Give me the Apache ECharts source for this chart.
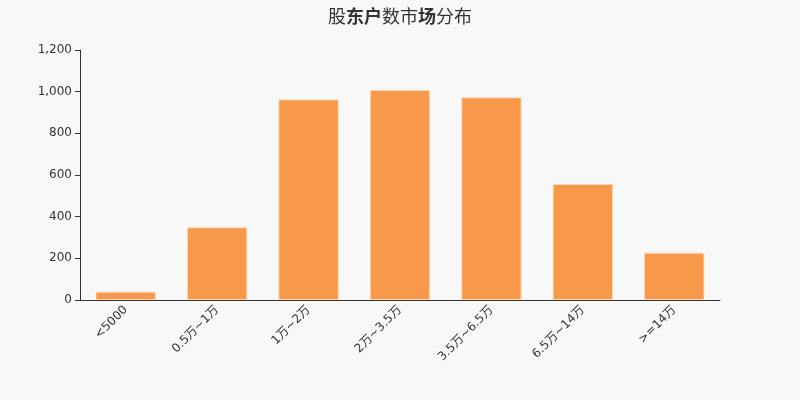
<!DOCTYPE html>
<html>
<head>
<meta charset="utf-8">
<script src="https://cdn.jsdelivr.net/npm/echarts@6/dist/echarts.min.js"></script>
<style>
  html, body { margin: 0; padding: 0; background: #f8f8f8; }
  #chart { width: 800px; height: 400px; }
</style>
</head>
<body>
<div id="chart"></div>
<script>
// 股东户数分布
const categories = ['<5000', '0.5万~1万', '1万~2万', '2万~3.5万', '3.5万~6.5万', '6.5万~14万', '>=14万'];
const holders = [40, 349, 963, 1008, 973, 557, 227];
const yTicks = { min: 0, max: 1200, interval: 200 };

const chart = echarts.init(document.getElementById('chart'));
const axisColor = '#333';

chart.setOption({
  backgroundColor: '#f8f8f8',
  title: {
    text: '股{b|东户}数市{b|场}分布',
    left: 'center',
    top: 2,
    textStyle: {
      fontFamily: 'Noto Sans CJK SC',
      fontSize: 18,
      fontWeight: 'normal',
      color: '#333',
      rich: {
        b: { fontFamily: 'Noto Sans CJK SC', fontSize: 18, fontWeight: 'bold', color: '#333' }
      }
    }
  },
  grid: { left: 80, right: 80, top: 50, bottom: 100 },
  xAxis: {
    type: 'category',
    data: categories,
    axisLine: { lineStyle: { color: axisColor } },
    axisTick: { alignWithLabel: false, lineStyle: { color: axisColor } },
    axisLabel: {
      rotate: 45,
      interval: 0,
      color: '#333',
      fontSize: 12,
      fontFamily: 'DejaVu Sans, Noto Sans CJK SC'
    }
  },
  yAxis: {
    type: 'value',
    min: yTicks.min,
    max: yTicks.max,
    interval: yTicks.interval,
    axisLine: { show: true, lineStyle: { color: axisColor } },
    axisTick: { show: true, lineStyle: { color: axisColor } },
    splitLine: { show: false },
    axisLabel: {
      color: '#333',
      fontSize: 12,
      fontFamily: 'DejaVu Sans',
      formatter: v => v.toLocaleString('en-US')
    }
  },
  series: [{
    type: 'bar',
    data: holders,
    barCategoryGap: '34%',
    itemStyle: {
      color: '#f7984a',
      borderColor: 'rgba(253,220,185,0.9)',
      borderWidth: 1
    }
  }]
});

window.addEventListener('resize', () => chart.resize());
</script>
</body>
</html>
